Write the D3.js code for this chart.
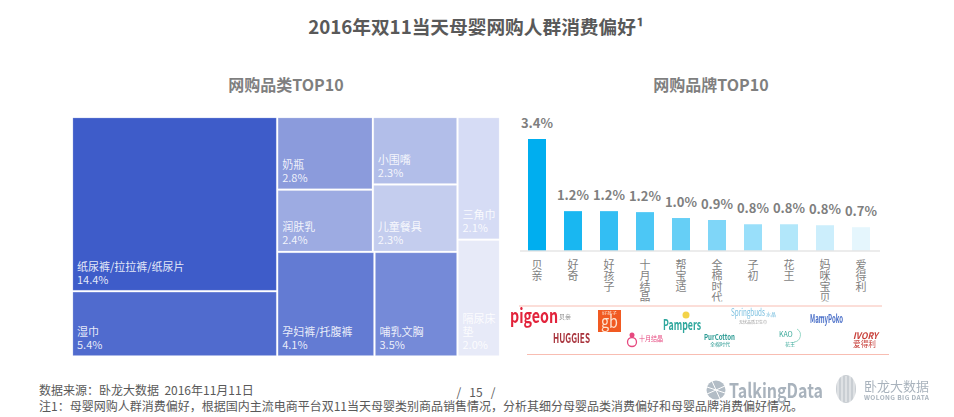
<!DOCTYPE html>
<html><head><meta charset="utf-8">
<script src="https://cdn.jsdelivr.net/npm/d3@7"></script>
<style>
html,body{margin:0;padding:0;background:#fff;overflow:hidden}
svg{display:block}
text{font-family:"Noto Sans CJK SC","Noto Sans",sans-serif}
</style></head><body>
<svg id="c" width="954" height="417"></svg>
<script>
// ---- data ----
const treeCol1Names = ["纸尿裤/拉拉裤/纸尿片", "湿巾"];
const treeCol1Values = [14.4, 5.4];
const treeTopLeftNames = ["奶瓶", "润肤乳"];
const treeTopLeftValues = [2.8, 2.4];
const treeTopRightNames = ["小围嘴", "儿童餐具"];
const treeTopRightValues = [2.3, 2.3];
const treeBottomNames = ["孕妇裤/托腹裤", "哺乳文胸"];
const treeBottomValues = [4.1, 3.5];
const treeCol3Names = ["三角巾", "隔尿床垫"];
const treeCol3Values = [2.1, 2.0];
const treeColors = {"纸尿裤/拉拉裤/纸尿片":"#3e5cc9","湿巾":"#506bce","孕妇裤/托腹裤":"#637bd3","哺乳文胸":"#758ad8","奶瓶":"#8b9bdc","润肤乳":"#9dabe2","小围嘴":"#b2bee9","儿童餐具":"#c4cdee","三角巾":"#d6dcf5","隔尿床垫":"#e7eaf8"};
const brandNames = ["贝亲","好奇","好孩子","十月结晶","帮宝适","全棉时代","子初","花王","妈咪宝贝","爱得利"];
const brandBarValues = [3.4,1.2,1.2,1.17,0.99,0.93,0.8,0.8,0.77,0.71];
const brandLabels = ["3.4%","1.2%","1.2%","1.2%","1.0%","0.9%","0.8%","0.8%","0.8%","0.7%"];
const brandColors = ["#00aeef","#19b7f1","#33bef3","#4cc7f5","#66cff6","#7fd6f8","#99dffa","#b2e7fa","#cceefc","#e5f6fd"];

const svg = d3.select("#c");
const grey = "#7f7f7f";

// ---- headings ----
svg.append("text").attr("x",476).attr("y",34).attr("text-anchor","middle").attr("font-size",18.7).attr("font-weight",700).attr("fill","#595959").text("2016年双11当天母婴网购人群消费偏好¹");
svg.append("text").attr("x",286).attr("y",91).attr("text-anchor","middle").attr("font-size",16).attr("font-weight",700).attr("fill",grey).text("网购品类TOP10");
svg.append("text").attr("x",711).attr("y",91).attr("text-anchor","middle").attr("font-size",16).attr("font-weight",700).attr("fill",grey).text("网购品牌TOP10");

// ---- treemap ----
const leafs = (names, vals) => names.map((name,i)=>({name,value:vals[i]}));
const treeData = {orient:"h",children:[
  {orient:"v",children:leafs(treeCol1Names,treeCol1Values)},
  {orient:"v",children:[
    {orient:"h",children:[
      {orient:"v",children:leafs(treeTopLeftNames,treeTopLeftValues)},
      {orient:"v",children:leafs(treeTopRightNames,treeTopRightValues)}]},
    {orient:"h",children:leafs(treeBottomNames,treeBottomValues)}]},
  {orient:"v",children:leafs(treeCol3Names,treeCol3Values)}
]};
const root = d3.hierarchy(treeData).sum(d=>d.value||0);
d3.treemap()
  .tile((n,x0,y0,x1,y1)=> (n.data.orient==="h"?d3.treemapDice:d3.treemapSlice)(n,x0,y0,x1,y1))
  .size([428,239.5])
  .paddingInner(0)(root);
const cell = svg.append("g").attr("transform","translate(72,117)").selectAll("g").data(root.leaves()).join("g");
cell.append("rect")
  .attr("x",d=>d.x0+.9).attr("y",d=>d.y0+.9)
  .attr("width",d=>d.x1-d.x0-1.8).attr("height",d=>d.y1-d.y0-1.8)
  .attr("fill",d=>treeColors[d.data.name])
  .attr("stroke","#fff").attr("stroke-opacity",.25).attr("stroke-width",.8);
cell.each(function(d){
  const g=d3.select(this), nm=d.data.name;
  const x=d.x0+5;
  const lab = g.append("text").attr("font-size",11).attr("fill","#fff").attr("fill-opacity",.88);
  const lines = nm==="隔尿床垫"?["隔尿床","垫"]:[nm];
  const lastY=d.y1-7.5;
  lines.concat([d3.format(".1f")(d.data.value)+"%"]).forEach((t,i,a)=>{
    lab.append("tspan").attr("x",x).attr("y",lastY-(a.length-1-i)*13).text(t);
  });
});

// ---- bars ----
const xB = d3.scaleBand().domain(brandNames).range([519,879]).paddingInner(.5).paddingOuter(.25);
const yB = d3.scaleLinear().domain([0,3.4]).range([250.5,139]);
const defs = svg.append("defs");
defs.append("clipPath").attr("id","axclip").append("rect").attr("x",510).attr("y",252).attr("width",380).attr("height",49.5);
defs.append("filter").attr("id","soft").append("feGaussianBlur").attr("stdDeviation",.4);
defs.append("filter").attr("id","shade").append("feGaussianBlur").attr("stdDeviation",1);

svg.append("g").selectAll("rect").data(brandNames).join("rect")
  .attr("x",d=>xB(d)).attr("width",xB.bandwidth())
  .attr("y",(d,i)=>yB(brandBarValues[i])).attr("height",(d,i)=>yB(0)-yB(brandBarValues[i]))
  .attr("fill",(d,i)=>brandColors[i]);
svg.append("g").selectAll("text").data(brandNames).join("text")
  .attr("x",d=>xB(d)+xB.bandwidth()/2).attr("y",(d,i)=>yB(brandBarValues[i])-11.5)
  .attr("text-anchor","middle").attr("font-size",13).attr("font-weight",700).attr("fill",grey)
  .text((d,i)=>brandLabels[i]);

const axis = svg.append("g").attr("transform","translate(0,250.5)").call(d3.axisBottom(xB).tickSize(0).tickFormat(""));
axis.select(".domain").attr("stroke","#d9d9d9").attr("stroke-width",1).attr("d","M520,0.5H880");
axis.selectAll(".tick text").remove();
const tl = svg.append("g").attr("clip-path","url(#axclip)");
brandNames.forEach(nm=>{
  const t=tl.append("text").attr("text-anchor","middle").attr("font-size",11).attr("fill",grey);
  Array.from(nm).forEach((ch,i)=>t.append("tspan").attr("x",xB(nm)+xB.bandwidth()/2).attr("y",269+i*11).text(ch));
});

// ---- red rules ----
[[519,882,306],[527,889,354.5]].forEach(([a,b,y])=>{
  svg.append("line").attr("x1",a+2).attr("x2",b+1).attr("y1",y+2).attr("y2",y+2).attr("stroke","#999").attr("stroke-opacity",.35).attr("stroke-width",1.2).attr("filter","url(#shade)");
  svg.append("line").attr("x1",a).attr("x2",b).attr("y1",y).attr("y2",y).attr("stroke","#f8bdb2").attr("stroke-width",1);
});

// ---- brand marks ----
const logos = svg.append("g").attr("filter","url(#soft)");
const logoText=(x,y,size,fill,weight,txt,len,fam)=>{
  const t=logos.append("text").attr("x",x).attr("y",y).attr("font-size",size).attr("fill",fill).attr("font-weight",weight).text(txt);
  if(len) t.attr("textLength",len).attr("lengthAdjust","spacingAndGlyphs");
  if(fam) t.attr("font-family",fam);
  return t;
};
logoText(510,323,19,"#e2233a",700,"pigeon",48,"Liberation Sans");
logoText(559,319,6,"#888",400,"贝亲");
logos.append("rect").attr("x",598).attr("y",310).attr("width",23).attr("height",22).attr("fill","#f15a22");
logoText(602,315,4,"#fde3d0",400,"好孩子",15);
logoText(601,328,17,"#fde3d0",400,"gb",17,"Liberation Sans");
logoText(663,330,14,"#2fa79d",700,"Pampers",38,"Liberation Sans");
logos.append("circle").attr("cx",686).attr("cy",315).attr("r",3.5).attr("fill","#f3d34a");
logoText(731,316,10,"#7cc0e0",400,"Springbuds",34,"DejaVu Serif");
logoText(766,316,5,"#7cc0e0",400,"水晶");
logoText(739,324,4,"#999",400,"无忧品质卫生巾",28);
logoText(810,323,11,"#4a6fc8",700,"MamyPoko",33,"Liberation Sans");
logoText(553,343,13,"#a8323b",700,"HUGGIES",37,"Liberation Sans");
logos.append("circle").attr("cx",632).attr("cy",342).attr("r",4.5).attr("fill","none").attr("stroke","#e6487f").attr("stroke-width",1.3);
logos.append("circle").attr("cx",632).attr("cy",335).attr("r",2.5).attr("fill","#e6487f");
logoText(639,341,7,"#e6487f",400,"十月结晶",24);
logoText(704,340,8,"#2f9c95",700,"PurCotton",31,"Liberation Sans");
logoText(710,346,5,"#2f9c95",400,"全棉时代",20);
logoText(779,337,7,"#3aa99a",400,"KAO",null,"Liberation Sans");
logoText(785,346,5,"#3aa99a",400,"花王");
logos.append("path").attr("d","M797,329a7,7 0 0 1 -3,13").attr("fill","none").attr("stroke","#7ccdb9").attr("stroke-width",.8);
logoText(853,339,9,"#c8403a",700,"IVORY",25,"Liberation Serif").attr("font-style","italic");
logoText(853,347,7.5,"#c8403a",400,"爱得利",23);

// ---- footer ----
svg.append("text").attr("x",39).attr("y",395).attr("font-size",12).attr("fill","#595959").attr("xml:space","preserve").text("数据来源：卧龙大数据  2016年11月11日");
svg.append("text").attr("x",39).attr("y",411).attr("font-size",12).attr("fill","#595959").text("注1：母婴网购人群消费偏好，根据国内主流电商平台双11当天母婴类别商品销售情况，分析其细分母婴品类消费偏好和母婴品牌消费偏好情况。");
svg.append("text").attr("x",476).attr("y",397).attr("text-anchor","middle").attr("font-size",12).attr("fill","#595959").attr("xml:space","preserve").text("/   15   /");

// ---- agency marks ----
const marks = svg.append("g").attr("filter","url(#soft)");
marks.append("circle").attr("cx",716).attr("cy",390).attr("r",9.5).attr("fill","#b3bdc6");
marks.append("path").attr("d","M707,387L725,393M712,381L720,399M707,394L725,386").attr("stroke","#fff").attr("stroke-width",1);
marks.append("text").attr("x",729).attr("y",398).attr("font-size",20).attr("font-weight",700).attr("fill","#a9b3bd").attr("font-family","Liberation Sans").attr("textLength",94).attr("lengthAdjust","spacingAndGlyphs").text("TalkingData");
marks.append("ellipse").attr("cx",846).attr("cy",389).attr("rx",10).attr("ry",14).attr("fill","#c9ced3");
d3.range(5).forEach(i=>marks.append("line").attr("x1",838+i*4).attr("x2",838+i*4).attr("y1",376).attr("y2",402).attr("stroke","#fff").attr("stroke-width",.8));
marks.append("text").attr("x",864).attr("y",391).attr("font-size",13).attr("fill","#a9b3bd").text("卧龙大数据");
marks.append("text").attr("x",864).attr("y",400).attr("font-size",6.5).attr("font-weight",700).attr("fill","#a9b3bd").attr("font-family","Liberation Sans").attr("textLength",65).text("WOLONG BIG DATA");
</script>
</body></html>
